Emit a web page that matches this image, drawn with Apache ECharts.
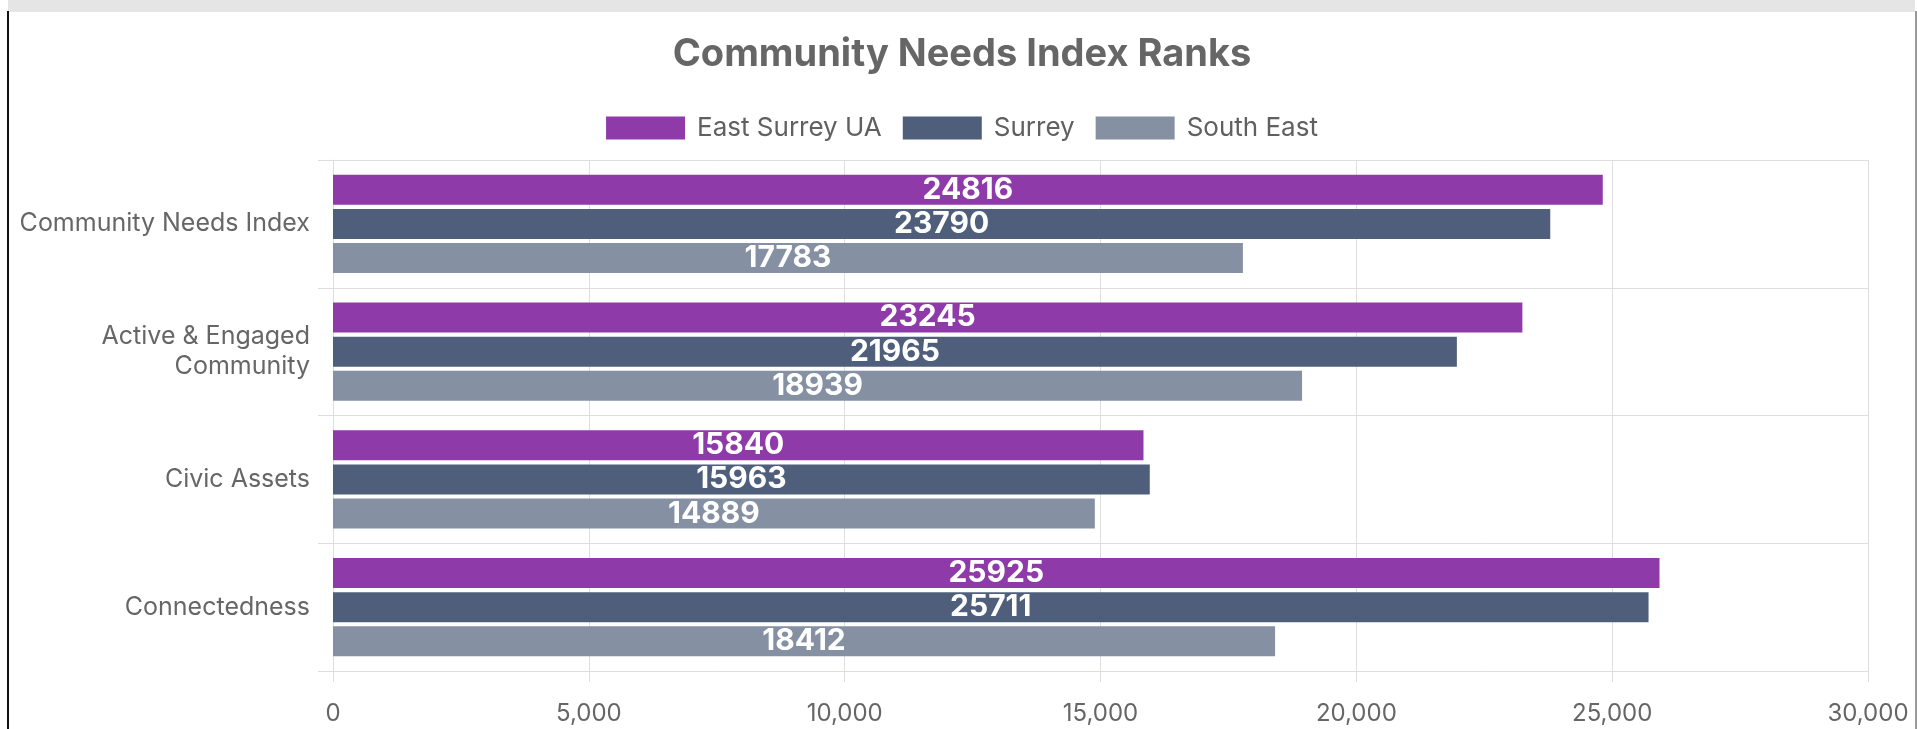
<!DOCTYPE html>
<html>
<head>
<meta charset="utf-8">
<title>Community Needs Index Ranks</title>
<script src="https://cdn.jsdelivr.net/npm/echarts@6.0.0/dist/echarts.min.js"></script>
<style>
	html, body { margin: 0; padding: 0; background: #fff; overflow: hidden; }
	.topband { position: absolute; left: 8px; top: 0; width: 1907px; height: 12px; background: #e5e5e5; }
	.leftline { position: absolute; left: 7px; top: 11px; width: 2px; height: 718px; background: #111; }
	.rightline { position: absolute; left: 1915px; top: 11px; width: 2px; height: 718px; background: #999; }
	.diagram1 { position: absolute; left: 9px; top: 12px; width: 1906px; height: 717px; }
</style>
</head>
<body>
<div class="topband"></div>
<div class="diagram1"><div class="graph" style="width:1906px;height:717px"></div></div>
<div class="leftline"></div>
<div class="rightline"></div>
<script>
// Chart data
var categories = ['Community Needs Index', 'Active & Engaged\nCommunity', 'Civic Assets', 'Connectedness'];
var seriesNames = ['East Surrey UA', 'Surrey', 'South East'];
var eastSurreyUA = [24816, 23245, 15840, 25925];
var surrey = [23790, 21965, 15963, 25711];
var southEast = [17783, 18939, 14889, 18412];
var xTicks = [0, 5000, 10000, 15000, 20000, 25000, 30000];

var colors = ['#8e3aa9', '#4f5f7b', '#8591a3'];
var gridColor = '#dedede';
var font = 'Inter';

function MakeSeries(name, values) {
	return {
		name: name,
		type: 'bar',
		data: values,
		barWidth: 30,
		barGap: '14%',
		label: {
			show: true,
			position: 'inside',
			color: '#fff',
			fontFamily: font,
			fontWeight: 'bold',
			fontSize: 30
		}
	};
}

function GenerateECharts() {
	var chart1 = echarts.init(document.querySelector('.diagram1 .graph'), null, {renderer: 'canvas'});

	chart1.setOption({
		animation: false,
		color: colors,
		title: {
			text: 'Community Needs Index Ranks',
			left: 'center',
			top: 24,
			padding: 0,
			textStyle: {
				color: '#666',
				fontFamily: font,
				fontWeight: 'bold',
				fontSize: 38
			}
		},
		legend: {
			data: seriesNames,
			left: 'center',
			top: 103,
			padding: 0,
			itemWidth: 79,
			itemHeight: 23,
			itemGap: 21,
			icon: 'rect',
			textStyle: {
				color: '#606060',
				fontFamily: font,
				fontSize: 26,
				padding: [0, 0, 0, 7]
			}
		},
		grid: {
			left: 324,
			right: 47,
			top: 148,
			bottom: 58,
			containLabel: false
		},
		xAxis: {
			type: 'value',
			min: xTicks[0],
			max: xTicks[xTicks.length - 1],
			interval: xTicks[1] - xTicks[0],
			axisLine: { show: true, lineStyle: { color: gridColor } },
			axisTick: { show: true, length: 11, lineStyle: { color: gridColor } },
			splitLine: { show: true, lineStyle: { color: gridColor } },
			axisLabel: {
				margin: 31,
				color: '#666',
				fontFamily: font,
				fontSize: 24,
				formatter: function (v) { return v.toLocaleString('en-US'); }
			}
		},
		yAxis: {
			type: 'category',
			data: categories,
			inverse: true,
			axisLine: { show: true, lineStyle: { color: gridColor } },
			axisTick: { show: true, length: 15, lineStyle: { color: gridColor } },
			splitLine: { show: true, lineStyle: { color: gridColor } },
			axisLabel: {
				margin: 23,
				color: '#666',
				fontFamily: font,
				fontSize: 25,
				lineHeight: 30,
				align: 'right'
			}
		},
		series: [
			MakeSeries(seriesNames[0], eastSurreyUA),
			MakeSeries(seriesNames[1], surrey),
			MakeSeries(seriesNames[2], southEast)
		]
	});
}

GenerateECharts();
</script>
</body>
</html>
